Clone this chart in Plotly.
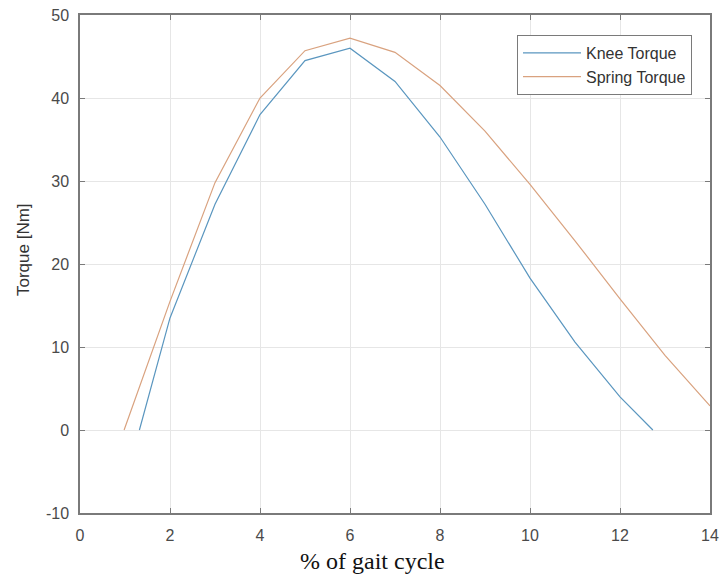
import plotly.graph_objects as go

knee_x = [1.32, 2, 3, 4, 5, 6, 7, 8, 9, 10, 11, 12, 12.73]
knee_y = [0, 13.5, 27.2, 38.0, 44.5, 46.0, 42.0, 35.3, 27.2, 18.3, 10.6, 4.0, 0]
spring_x = [0.98, 2, 3, 4, 5, 6, 7, 8, 9, 10, 11, 12, 13, 14]
spring_y = [0, 15.5, 29.8, 40.0, 45.7, 47.2, 45.5, 41.5, 36.0, 29.6, 22.8, 15.8, 9.0, 2.9]

x_ticks = [0, 2, 4, 6, 8, 10, 12, 14]
y_ticks = [-10, 0, 10, 20, 30, 40, 50]
y_tick_labels = ["-10", "0", "10", "20", "30", "40", "50"]

W, H = 722, 576
L, R, T, B = 80, 12, 15, 63
pw, ph = W - L - R, H - T - B

fig = go.Figure()
fig.add_trace(go.Scatter(x=knee_x, y=knee_y, mode="lines", name="Knee Torque",
                         line=dict(color="#5a96bf", width=1.2)))
fig.add_trace(go.Scatter(x=spring_x, y=spring_y, mode="lines", name="Spring Torque",
                         line=dict(color="#d9a27f", width=1.2)))

axis_common = dict(showgrid=True, gridcolor="#e6e6e6", gridwidth=1,
                   showline=True, linecolor="#7a7a7a", linewidth=1.5, mirror="ticks",
                   ticks="inside", ticklen=5, tickcolor="#7a7a7a", zeroline=False,
                   automargin=False,
                   tickfont=dict(family="Liberation Sans, Arial", size=16, color="#4a4a4a"))

fig.update_layout(
    width=W, height=H,
    margin=dict(l=L, r=R, t=T, b=B, autoexpand=False),
    paper_bgcolor="white", plot_bgcolor="white",
    xaxis=dict(range=[0, 14], tickvals=x_ticks, ticklabelstandoff=7, **axis_common),
    yaxis=dict(range=[-10, 50], tickvals=y_ticks, ticktext=y_tick_labels,
               ticklabelstandoff=6, **axis_common),
    legend=dict(x=(692 - L) / pw, y=(H - B - 35) / ph, xanchor="right", yanchor="top",
                bgcolor="white", bordercolor="#7a7a7a", borderwidth=1,
                font=dict(family="Liberation Sans, Arial", size=16, color="#333333"),
                itemwidth=58, tracegroupgap=0),
    showlegend=True,
    annotations=[
        dict(text="Torque [Nm]", x=(23 - L) / pw, y=(H - B - 250) / ph,
             xref="paper", yref="paper", xanchor="center", yanchor="middle",
             showarrow=False, textangle=-90,
             font=dict(family="Liberation Sans, Arial", size=17, color="#333333")),
        dict(text="% of gait cycle", x=(372 - L) / pw, y=(H - B - 561) / ph,
             xref="paper", yref="paper", xanchor="center", yanchor="middle",
             showarrow=False,
             font=dict(family="Liberation Serif, Times New Roman", size=24, color="#111111")),
    ],
)

fig.write_html("out.html")
